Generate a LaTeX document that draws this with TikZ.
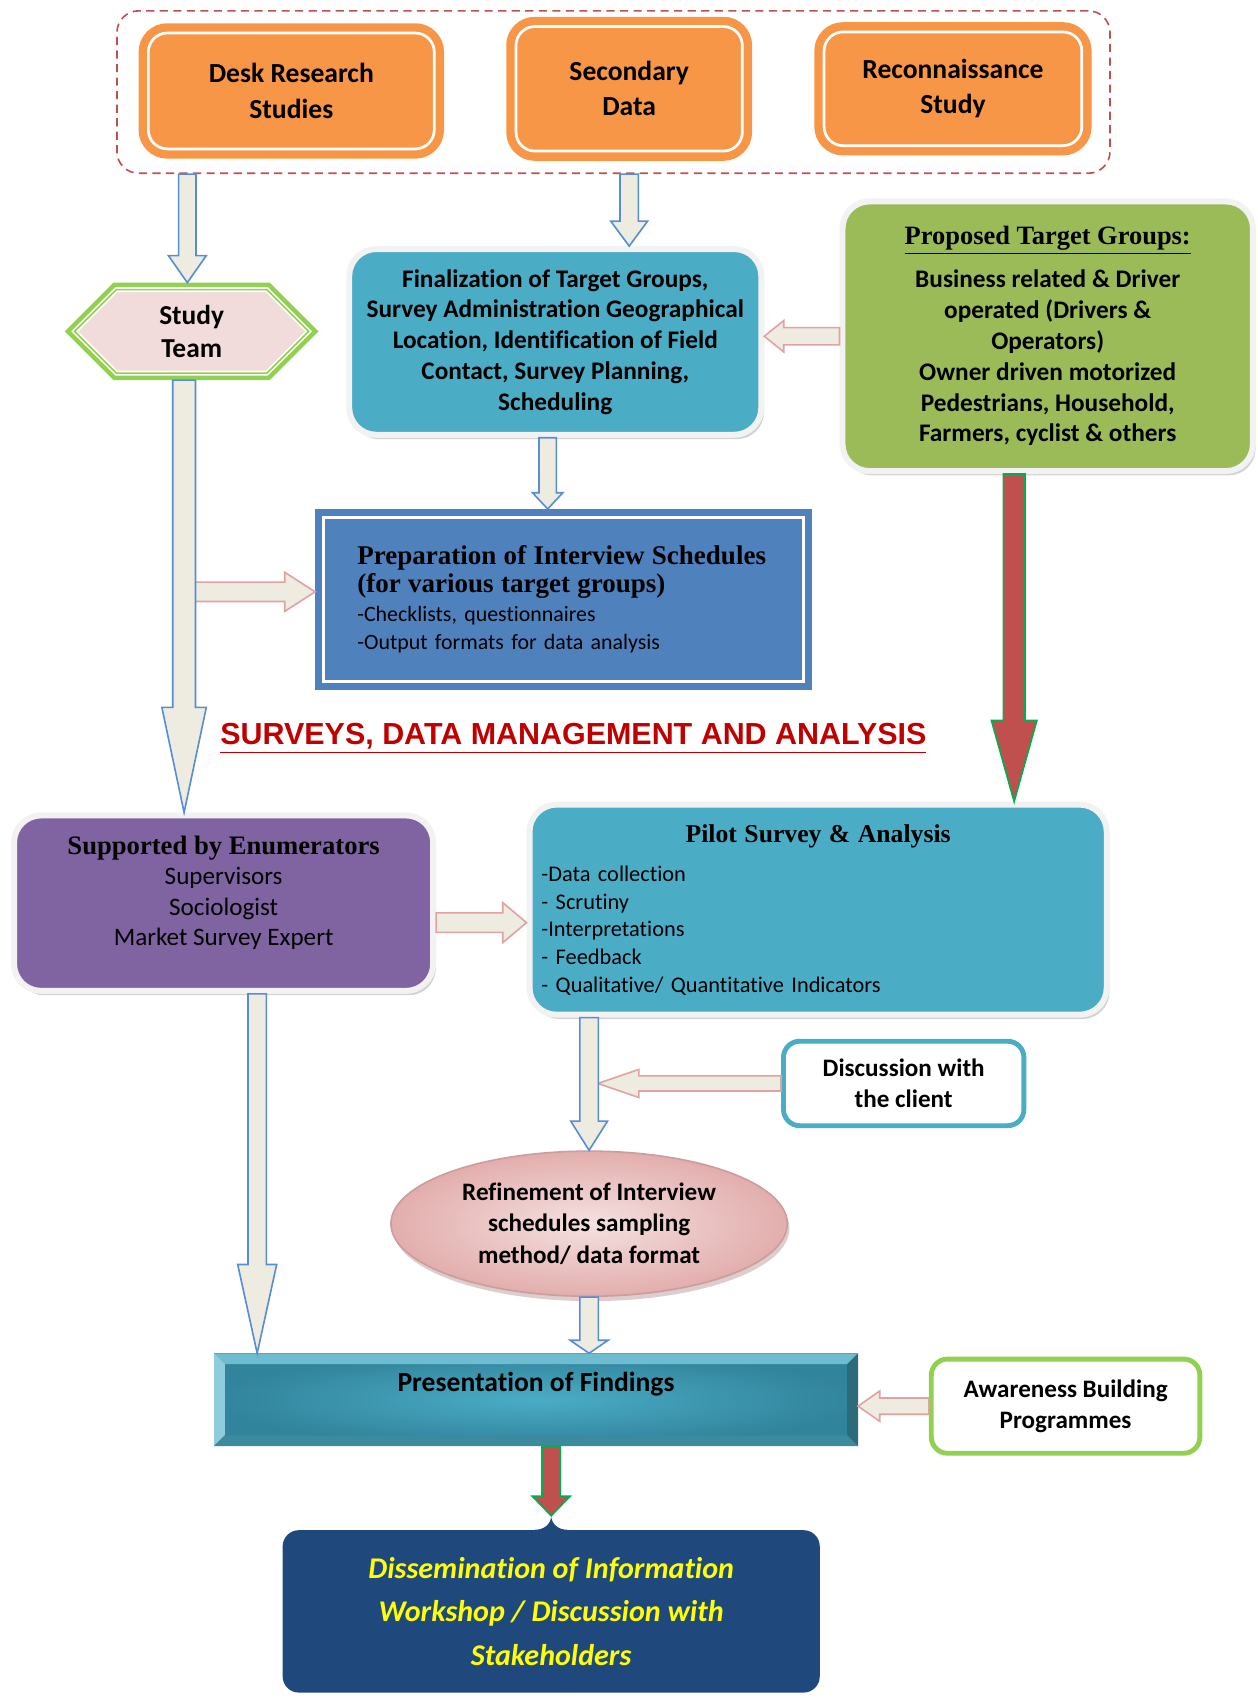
\documentclass[tikz,border=0pt]{standalone}
\usepackage{fontspec}
\setmainfont{Carlito}[Ligatures=NoCommon]
\newfontfamily\cambria{Liberation Serif}
\newfontfamily\arialfont{Liberation Sans}
\usetikzlibrary{positioning,calc,shapes.geometric,shapes.symbols,shadows}

\definecolor{boxorange}{HTML}{F79646}
\definecolor{framered}{HTML}{C0504D}
\definecolor{hexgreen}{HTML}{92D050}
\definecolor{hexpink}{HTML}{F2DCDB}
\definecolor{boxteal}{HTML}{4BACC6}
\definecolor{boxgreen}{HTML}{9BBB59}
\definecolor{boxblue}{HTML}{4F81BD}
\definecolor{boxpurple}{HTML}{8064A2}
\definecolor{boxnavy}{HTML}{1F497D}
\definecolor{halo}{HTML}{F2F2F2}
\definecolor{arrowfill}{HTML}{EEECE1}
\definecolor{arrowblue}{HTML}{558ED5}
\definecolor{arrowpink}{HTML}{E0A3A1}
\definecolor{arrowred}{HTML}{C0504D}
\definecolor{arrowgreen}{HTML}{00B050}
\definecolor{titlered}{HTML}{C00000}
\definecolor{presdark}{HTML}{31849B}
\definecolor{bevtop}{HTML}{6EBCCF}
\definecolor{bevleft}{HTML}{8FCDDD}
\definecolor{bevright}{HTML}{2E6B7A}
\definecolor{bevbottom}{HTML}{3B8A9E}
\definecolor{refinelight}{HTML}{F4E1E0}
\definecolor{refinedark}{HTML}{E2AEAD}
\definecolor{dissyellow}{HTML}{FFFF00}

\tikzset{
	every node/.style={font=\bfseries\fontsize{13.3}{16.2}\selectfont},
	arrowdims/.code args={#1/#2/#3}{\def\shafthw{#1}\def\headhw{#2}\def\headlen{#3}},
	blockarrow/.style={to path={
		($(\tikztotarget)!\headlen!(\tikztostart)$) coordinate (bneck)
		($(\tikztostart)!\shafthw!90:(\tikztotarget)$)
		-- ($(bneck)!\shafthw!90:(\tikztotarget)$)
		-- ($(bneck)!\headhw!90:(\tikztotarget)$)
		-- (\tikztotarget)
		-- ($(bneck)!\headhw!-90:(\tikztotarget)$)
		-- ($(bneck)!\shafthw!-90:(\tikztotarget)$)
		-- ($(\tikztostart)!\shafthw!-90:(\tikztotarget)$)
		-- cycle}},
	bluearrow/.style={arrowdims={#1}, blockarrow, fill=arrowfill, draw=arrowblue, line width=0.3mm},
	pinkarrow/.style={arrowdims={#1}, blockarrow, fill=arrowfill, draw=arrowpink, line width=0.3mm},
	redarrow/.style={arrowdims={#1}, blockarrow, fill=arrowred, draw=arrowgreen, line width=0.3mm},
	groupframe/.style={draw=framered, line width=0.3mm, dash pattern=on 1.5mm off 1mm, rounded corners=4mm},
	orangebox/.style={rounded corners=3.5mm, fill=boxorange, draw=white, line width=0.5mm,
		preaction={draw=boxorange, line width=3.6mm}, outer sep=1.8mm, align=center,
		font=\bfseries\fontsize{14.5}{18.5}\selectfont},
	hexbox/.style={signal, signal to=east and west, signal pointer angle=90, fill=hexpink,
		draw=white, line width=0.3mm, double=hexgreen, double distance=0.3mm,
		preaction={draw=hexgreen, line width=2.6mm}, outer sep=1.3mm, align=center,
		font=\bfseries\fontsize{14.4}{17.5}\selectfont},
	tealbox/.style={rounded corners=5mm, fill=boxteal, draw=halo, line width=1.1mm, align=center,
		drop shadow={shadow xshift=0.5mm, shadow yshift=-0.8mm, fill=gray!70}},
	prepbox/.style={fill=boxblue, draw=white, line width=0.6mm, preaction={draw=boxblue, line width=3.2mm},
		outer sep=1.6mm, align=left, font=\mdseries\fontsize{11.5}{15}\selectfont},
	linebox/.style={rounded corners=3mm, fill=white, line width=0.9mm, align=center,
		font=\bfseries\fontsize{13.2}{16.5}\selectfont}
}

\begin{document}
\begin{tikzpicture}[x=0.2mm,y=-0.2mm]
	\useasboundingbox (0,0) rectangle (1161,1568);
	\node[groupframe, minimum width=183.4mm, minimum height=30mm] (group) at (566.5,85) {};
	\node[orangebox, minimum width=52.8mm, minimum height=21.4mm] (desk) at (269,84) {Desk Research\\Studies};
	\node[orangebox, minimum width=41.8mm, minimum height=23mm] (secdata) at (581,82) {Secondary\\Data};
	\node[orangebox, minimum width=47.6mm, minimum height=21mm] (recon) at (880,82) {Reconnaissance\\Study};

	\node[hexbox, minimum width=43.2mm, minimum height=15.4mm] (team) at (177,306) {Study\\Team};
	\node[tealbox, minimum width=76.1mm, minimum height=34.3mm] (final) at (512.75,315.75)
		{Finalization of Target Groups,\\Survey Administration Geographical\\Location, Identification of Field\\Contact, Survey Planning,\\Scheduling};
	\node[tealbox, fill=boxgreen, minimum width=75.8mm, minimum height=49.8mm] (target) at (967.5,310.5)
		{{\cambria\bfseries\fontsize{13.9}{16}\selectfont\underline{Proposed Target Groups:}}\\[2.2mm]
		Business related \& Driver\\operated (Drivers \&\\Operators)\\Owner driven motorized\\Pedestrians, Household,\\Farmers, cyclist \& others};
	\node[prepbox, minimum width=88.6mm, minimum height=30.2mm, text width=76.2mm] (prep) at (520.5,553.5)
		{{\cambria\bfseries\fontsize{14.2}{15}\selectfont Preparation of Interview Schedules\\(for various target groups)}\\-Checklists, questionnaires\\-Output formats for data analysis};

	\node[text=titlered, font=\arialfont\bfseries\fontsize{16}{18}\selectfont] (survtitle) at (529.5,682)
		{\underline{SURVEYS, DATA MANAGEMENT AND ANALYSIS}};

	\node[tealbox, fill=boxpurple, minimum width=77.4mm, minimum height=32.4mm, text depth=4.6mm,
		font=\mdseries\fontsize{13.2}{16}\selectfont] (enum) at (206.5,834)
		{{\cambria\bfseries\fontsize{14}{16}\selectfont Supported by Enumerators}\\Supervisors\\Sociologist\\Market Survey Expert};
	\node[tealbox, minimum width=106.6mm, minimum height=38.8mm, text width=102.2mm, align=left,
		font=\mdseries\fontsize{11.75}{14.5}\selectfont] (pilot) at (755.5,840)
		{\makebox[\hsize][c]{\cambria\bfseries\fontsize{13.5}{16}\selectfont Pilot Survey \& Analysis}\\[2.2mm]
		-Data collection\\- Scrutiny\\-Interpretations\\- Feedback\\- Qualitative/ Quantitative Indicators};

	\node[linebox, draw=boxteal, minimum width=44.4mm, minimum height=15.6mm] (client) at (834.5,1000.5) {Discussion with\\the client};
	\node[ellipse, minimum width=73.2mm, minimum height=26.8mm, inner sep=0pt, inner color=refinelight, outer color=refinedark,
		draw=refinedark!90!black, line width=0.3mm, align=center, font=\bfseries\fontsize{13.2}{16.5}\selectfont,
		drop shadow={shadow xshift=0.4mm, shadow yshift=-0.9mm, fill=refinedark!60!gray}] (refine) at (544,1130)
		{Refinement of Interview\\schedules sampling\\method/ data format};

	\node[inner color=boxteal, outer color=presdark, minimum width=118.8mm, minimum height=17mm, text height=3mm, text depth=6mm,
		font=\bfseries\fontsize{14.5}{16}\selectfont] (present) at (495,1292.5) {Presentation of Findings};
	\fill[bevtop] (present.north west) -- (present.north east) -- ($(present.north east)+(-10,10)$) -- ($(present.north west)+(10,10)$) -- cycle;
	\fill[bevleft] (present.north west) -- ($(present.north west)+(10,10)$) -- ($(present.south west)+(10,-10)$) -- (present.south west) -- cycle;
	\fill[bevright] (present.north east) -- ($(present.north east)+(-10,10)$) -- ($(present.south east)+(-10,-10)$) -- (present.south east) -- cycle;
	\fill[bevbottom] (present.south west) -- ($(present.south west)+(10,-10)$) -- ($(present.south east)+(-10,-10)$) -- (present.south east) -- cycle;
	\node[linebox, draw=hexgreen, minimum width=49.6mm, minimum height=17.4mm] (aware) at (984,1298.5)
		{Awareness Building\\Programmes};

	\node[rounded corners=3mm, fill=boxnavy, text=dissyellow, minimum width=99.2mm, minimum height=30mm, align=center,
		font=\bfseries\itshape\fontsize{15.8}{22.8}\selectfont] (diss) at (509,1488)
		{Dissemination of Information\\Workshop / Discussion with\\Stakeholders};
	\coordinate (disstip) at ($(diss.north)+(0,-13)$);
	\fill[boxnavy] ($(diss.north)+(-15,0)$) .. controls ($(diss.north)+(-6,0)$) and ($(diss.north)+(0,-6)$) .. (disstip)
		.. controls ($(diss.north)+(0,-6)$) and ($(diss.north)+(6,0)$) .. ($(diss.north)+(15,0)$) -- cycle;

	\coordinate (deskdown) at ([xshift=-0.8mm]group.south -| team.north);
	\coordinate (teamin) at ([xshift=-0.8mm]team.north);
	\coordinate (secdown) at (group.south -| secdata.south);
	\coordinate (secin) at (final.north -| secdata.south);
	\coordinate (targetin) at (target.west -| final.east);
	\coordinate (finalout) at ([xshift=-1.4mm]final.south);
	\coordinate (prepin) at (finalout |- prep.north);
	\coordinate (prepside) at ([yshift=1.4mm]prep.west);
	\coordinate (teamout) at ([xshift=-1.4mm]team.south);
	\coordinate (teamside) at (teamout |- prepside);
	\coordinate (enumin) at (teamout |- enum.north);
	\coordinate (redout) at ([xshift=-6.2mm]target.south);
	\coordinate (redin) at (redout |- pilot.north);
	\coordinate (enumout) at ([yshift=-3.6mm]enum.east);
	\coordinate (pilotin) at (enumout -| pilot.west);
	\coordinate (pilotout) at (refine.north |- pilot.south);
	\coordinate (clientin) at ($(client.west -| refine.north)+(8,0)$);
	\coordinate (enumdown) at ([xshift=6.2mm]enum.south);
	\coordinate (presin) at (enumdown |- present.north);
	\coordinate (refineout) at (refine.south |- present.north);
	\coordinate (awarein) at (aware.west -| present.east);
	\coordinate (presout) at (diss.north |- present.south);

	\draw[pinkarrow=1.8mm/3.6mm/5.6mm] (teamside) to (prepside);
	\draw[bluearrow=1.6mm/3.5mm/5mm] (deskdown) to (teamin);
	\draw[bluearrow=1.7mm/3.4mm/4.6mm] (secdown) to (secin);
	\draw[pinkarrow=1.6mm/2.9mm/3.6mm] (target.west) to (targetin);
	\draw[bluearrow=1.6mm/2.8mm/3mm] (finalout) to (prepin);
	\draw[bluearrow=2.1mm/4.1mm/19.4mm] (teamout) to (enumin);
	\draw[redarrow=2mm/4.2mm/15mm] (redout) to (redin);
	\draw[pinkarrow=1.8mm/3.7mm/4.4mm] (enumout) to (pilotin);
	\draw[pinkarrow=1.4mm/2.6mm/7.6mm] (client.west) to (clientin);
	\draw[bluearrow=1.7mm/3.4mm/5.4mm] (pilotout) to (refine.north);
	\draw[bluearrow=1.7mm/3.6mm/16.4mm] (enumdown) to (presin);
	\draw[bluearrow=1.7mm/3.5mm/2.4mm] (refine.south) to (refineout);
	\draw[pinkarrow=1.5mm/2.8mm/4mm] (aware.west) to (awarein);
	\draw[redarrow=1.7mm/3.5mm/3.6mm] (presout) to (disstip);
\end{tikzpicture}
\end{document}
